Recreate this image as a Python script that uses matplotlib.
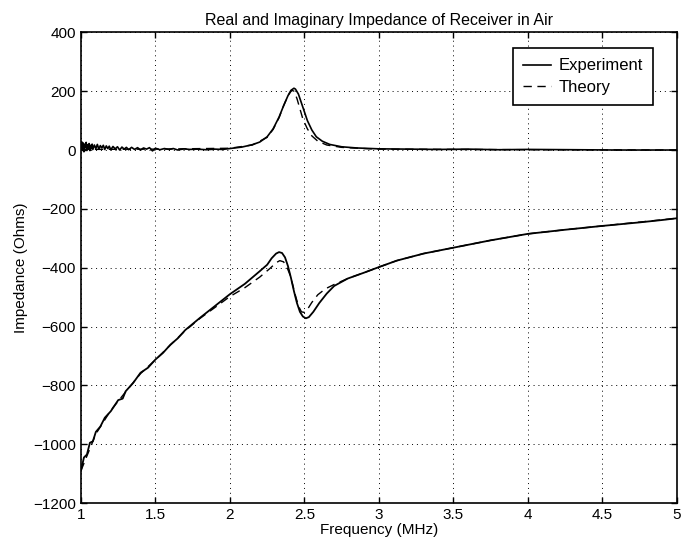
import matplotlib.pyplot as plt

# Real part
real_exp_f = [1.000, 1.005, 1.010, 1.015, 1.020, 1.025, 1.030, 1.035, 1.040, 1.045, 1.050, 1.055,
              1.060, 1.065, 1.070, 1.075, 1.080, 1.090, 1.100, 1.110, 1.120, 1.130, 1.140, 1.150,
              1.160, 1.170, 1.180, 1.190, 1.200, 1.215, 1.230, 1.245, 1.260, 1.275, 1.290, 1.305,
              1.320, 1.340, 1.360, 1.380, 1.400, 1.420, 1.440, 1.460, 1.480, 1.500, 1.530, 1.560,
              1.590, 1.620, 1.650, 1.690, 1.730, 1.780, 1.840, 1.900, 1.950,
              2.00, 2.08, 2.15, 2.20, 2.25, 2.29, 2.33, 2.36, 2.39, 2.41, 2.43, 2.44, 2.46, 2.48,
              2.50, 2.52, 2.55, 2.58, 2.62, 2.67, 2.75, 2.85, 3.00, 3.20, 3.40, 3.60, 3.80,
              4.00, 4.30, 4.60, 5.00]
real_exp_z = [12, 28, 2, 24, -6, 20, 8, 26, 0, 18, 6, 22, -2, 16, 4, 20, 2, 17, 5, 19, 3, 15, 7, 16,
              2, 14, 5, 13, 1, 12, 4, 11, 0, 10, 3, 9, 1, 9, 2, 8, 0, 7, 3, 8, -3, 6, 1, 5,
              2, 5, 0, 4, 2, 3, 1, 3, 2,
              5, 10, 18, 27, 45, 72, 112, 150, 185, 203, 210, 207, 190, 160,
              130, 100, 68, 45, 30, 19, 11, 7, 4, 3, 2, 3, 1,
              2, 1, 0, 0]

real_th_f = [1.00, 1.50, 2.00, 2.15, 2.25, 2.29, 2.33, 2.36, 2.39, 2.415, 2.43, 2.45, 2.47, 2.49,
             2.52, 2.55, 2.59, 2.65, 2.75, 2.90, 3.00, 3.50, 4.00, 5.00]
real_th_z = [2, 3, 6, 17, 43, 70, 110, 150, 185, 203, 200, 175, 140, 105,
             72, 48, 30, 17, 9, 5, 3, 2, 1, 0]

# Imaginary part
imag_exp_f = [1.00, 1.02, 1.04, 1.06, 1.08, 1.10, 1.13, 1.16, 1.20, 1.25, 1.28, 1.30, 1.35,
              1.40, 1.45, 1.50, 1.55, 1.60, 1.65, 1.70, 1.80, 1.90, 2.00, 2.10, 2.20, 2.25,
              2.28, 2.31, 2.33, 2.35, 2.37, 2.39, 2.41, 2.43, 2.45, 2.47, 2.49, 2.51, 2.53,
              2.56, 2.60, 2.65, 2.70, 2.79, 2.90, 3.00, 3.12, 3.30, 3.50, 3.75, 4.00, 4.25,
              4.50, 4.75, 4.90, 5.00]
imag_exp_z = [-1090, -1045, -1035, -995, -990, -958, -940, -910, -888, -850, -845, -820, -792,
              -757, -740, -712, -690, -662, -640, -612, -570, -530, -490, -455, -412, -390,
              -368, -352, -347, -350, -365, -395, -435, -480, -520, -550, -566, -572, -568,
              -550, -520, -488, -462, -437, -417, -398, -376, -352, -332, -307, -285, -271,
              -258, -246, -238, -232]

imag_th_f = [1.00, 1.10, 1.20, 1.30, 1.40, 1.50, 1.60, 1.70, 1.80, 1.90, 2.00, 2.10, 2.20,
             2.27, 2.31, 2.335, 2.36, 2.38, 2.40, 2.42, 2.44, 2.46, 2.48, 2.50, 2.52, 2.55,
             2.59, 2.64, 2.70, 2.80, 2.90, 3.00, 3.12, 3.30, 3.50, 3.75, 4.00, 4.25, 4.50,
             4.75, 5.00]
imag_th_z = [-1090, -965, -885, -822, -760, -713, -663, -614, -572, -535, -498, -468, -432,
             -402, -383, -376, -380, -395, -420, -455, -495, -530, -550, -552, -542, -518,
             -492, -472, -457, -435, -417, -398, -376, -352, -332, -307, -285, -271, -258,
             -245, -232]

plt.rcParams['font.family'] = ['Liberation Sans', 'DejaVu Sans']
plt.rcParams['font.size'] = 11

fig = plt.figure(figsize=(6.92, 5.48), dpi=100)
ax = fig.add_axes([0.117, 0.082, 0.861, 0.859])

exp_line, = ax.plot(real_exp_f, real_exp_z, color='black', lw=1.2, label='Experiment')
th_line, = ax.plot(real_th_f, real_th_z, color='black', lw=1.0, ls=(0, (6, 4)), label='Theory')
ax.plot(imag_exp_f, imag_exp_z, color='black', lw=1.3)
ax.plot(imag_th_f, imag_th_z, color='black', lw=1.0, ls=(0, (6, 4)))

ax.set_xlim(1, 5)
ax.set_ylim(-1200, 400)
ax.set_xticks([1, 1.5, 2, 2.5, 3, 3.5, 4, 4.5, 5])
ax.set_xticklabels(['1', '1.5', '2', '2.5', '3', '3.5', '4', '4.5', '5'])
ax.set_yticks(range(-1200, 401, 200))
ax.set_yticklabels(['\u22121200', '\u22121000', '\u2212800', '\u2212600', '\u2212400',
                    '\u2212200', '0', '200', '400'])
ax.grid(True, color='black', ls=(0, (1, 4)), lw=0.7)
ax.tick_params(direction='in', top=True, right=True, length=4, width=1)
for s in ax.spines.values():
    s.set_linewidth(1.2)

ax.set_title('Real and Imaginary Impedance of Receiver in Air', fontsize=11.5, pad=5)
ax.set_xlabel('Frequency (MHz)', labelpad=1)
ax.set_ylabel('Impedance (Ohms)', labelpad=4)

leg = ax.legend(handles=[exp_line, th_line], loc='upper right', bbox_to_anchor=(0.960, 0.966),
                borderaxespad=0, fancybox=False, edgecolor='black', framealpha=1,
                handlelength=1.7, handletextpad=0.45, borderpad=0.6, labelspacing=0.4,
                fontsize=12)
leg.get_frame().set_linewidth(1.2)

fig.savefig('out.png', dpi=100)
